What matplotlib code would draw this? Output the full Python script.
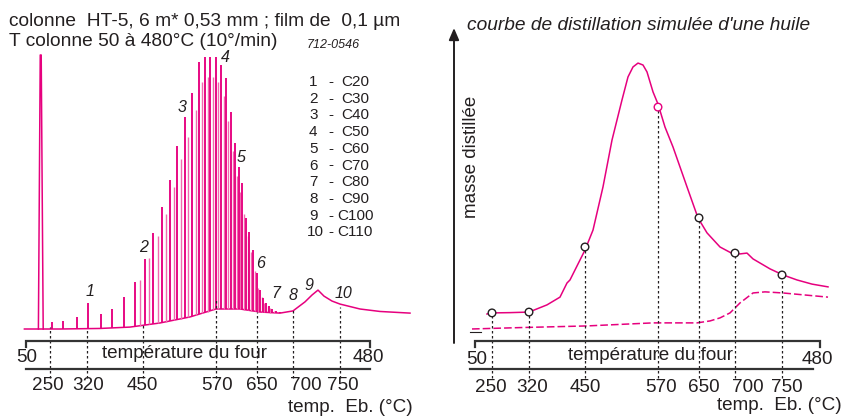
import matplotlib
matplotlib.use('Agg')
import matplotlib.pyplot as plt
import numpy as np

plt.rcParams['font.family'] = ['Liberation Sans', 'DejaVu Sans']

MAGENTA = '#e6007e'
LIGHT = '#f06aae'
INK = '#231f20'

# ---- left: chromatogram (oven temperature in degC, signal in % of solvent peak)
SOLVENT_T = [65.5, 67.8, 69.0, 71.5]
SOLVENT_S = [0.0, 100.0, 100.0, 0.0]

DRIFT_T = [48, 92.5, 142.5, 180, 217.5, 255, 287.5, 317.5, 342.5, 367.5, 383.75,
           398.75, 407.5, 415, 422.5, 432.5, 442.5, 467.5, 492.5, 530]
DRIFT_S = [0.0, 0.0, 0.2, 0.7, 2.2, 4.4, 7.3, 7.3, 6.2, 5.8, 6.6,
           9.9, 12.4, 14.2, 12.0, 10.2, 9.1, 7.3, 6.4, 5.8]

# even n-alkanes (small ones before C20, then C20 ... C84)
EVEN_T = [82.5, 96.25, 113.75, 127.5, 143.75, 157.5, 172.5, 186.25, 198.75, 208.75,
          220, 230, 238.75, 248.75, 257.5, 266.25, 273.75, 280, 287.5, 293.75,
          300, 306.25, 311.25, 316.25, 320, 325, 328.75, 333.75, 338.75, 342.5,
          346.25, 350, 353.75, 357.5, 362.5, 367.5]
EVEN_S = [2.6, 2.9, 4.4, 9.5, 5.5, 7.3, 11.7, 17.2, 25.5, 35.0,
          44.5, 54.4, 66.8, 77.4, 86.1, 97.4, 99.3, 99.3, 99.3, 96.4,
          91.6, 79.2, 67.9, 59.1, 53.3, 40.5, 35.4, 28.8, 20.4, 14.2,
          11.3, 9.5, 8.4, 7.3, 6.6, 6.2]

# odd n-alkanes (lighter traces) C29 ... C81
ODD_T = [192.5, 203.75, 214.4, 225, 234.4, 243.75, 253.1, 261.9, 270, 276.9,
         283.75, 290.6, 296.9, 303.1, 308.75, 313.75, 318.1, 322.5, 326.9, 331.25,
         336.25, 340.6, 344.4, 348.1, 351.9, 355.6, 360]
ODD_S = [18, 26, 34, 42, 52, 62, 70, 80, 90, 92,
         92, 90, 85, 76, 65, 56, 50, 42, 34, 28,
         21, 15, 11.5, 9.5, 8.5, 7.5, 6.7]

PEAK_LABELS = ['1', '2', '3', '4', '5', '6', '7', '8', '9', '10']
PEAK_NAMES = ['C20', 'C30', 'C40', 'C50', 'C60', 'C70', 'C80', 'C90', 'C100', 'C110']

# boiling temperature marks, placed at the oven temperature where they fall
BP_LABELS = ['250', '320', '450', '570', '650', '700', '750']
BP_OVEN = [80, 126.25, 196.25, 287.5, 338.75, 383.75, 442.5]
BP_TOP_LEFT = [0.7, -0.4, 1.5, 10.6, 6.2, 6.9, 8.0]

# ---- right: simulated distillation curve (mass, arbitrary units)
DIST_T = [73.75, 80, 102.5, 126.25, 148.75, 165, 173.75, 177.5, 196.25, 206.25,
          218.75, 230, 242.5, 250, 256.25, 262.5, 268.75, 273.75, 281.25, 287.5,
          296.25, 306.25, 323.75, 337.5, 348.75, 365, 381.25, 390, 398.75, 406.25,
          427.5, 443.75, 461.25, 480, 500]
DIST_M = [10.1, 10.5, 10.6, 10.8, 13.4, 16.2, 21.3, 22.4, 33.2, 40.4,
          56.0, 72.9, 87.4, 95.7, 99.3, 100.7, 100.0, 97.5, 90.3, 85.9,
          77.6, 70.4, 56.0, 44.8, 39.4, 34.3, 31.8, 31.8, 32.1, 30.0,
          26.4, 24.2, 22.4, 20.9, 19.9]
BP_MASS = [10.5, 10.8, 34.3, 84.8, 44.8, 32.1, 24.2]

BASE_T = [55, 115, 198.75, 281.25, 336.25, 352.5, 365, 377.5, 390, 406.25,
          421.25, 443.75, 500]
BASE_M = [4.7, 5.2, 5.8, 6.9, 6.9, 7.6, 8.7, 10.5, 14.1, 17.7,
          18.1, 17.7, 16.2]

fig = plt.figure(figsize=(8.44, 4.18), dpi=100)

# left data axes
ax_l = fig.add_axes([0, 0, 1, 1])
ax_l.set_xlim(17.5, 1072.5)
ax_l.set_ylim(-32.48, 120.07)
ax_l.axis('off')

ax_l.plot(SOLVENT_T, SOLVENT_S, color=MAGENTA, lw=1.1)
ax_l.plot(DRIFT_T, DRIFT_S, color=MAGENTA, lw=1.1)
ax_l.vlines(ODD_T, np.interp(ODD_T, DRIFT_T, DRIFT_S), ODD_S, color=LIGHT, lw=1.0)
ax_l.vlines(EVEN_T, np.interp(EVEN_T, DRIFT_T, DRIFT_S), EVEN_S, color=MAGENTA, lw=1.35)
ax_l.vlines(BP_OVEN, -17.9, BP_TOP_LEFT, color=INK, lw=0.9, linestyles=(0, (2, 2)))

# right data axes
ax_r = fig.add_axes([0, 0, 1, 1])
ax_r.set_xlim(-535, 520)
ax_r.set_ylim(-27.44, 123.47)
ax_r.axis('off')

ax_r.plot(DIST_T, DIST_M, color=MAGENTA, lw=1.1)
ax_r.plot(BASE_T, BASE_M, color=MAGENTA, lw=1.1, dashes=(5, 2))
ax_r.vlines(BP_OVEN, -13.0, BP_MASS, color=INK, lw=0.9, linestyles=(0, (2, 2)))
edge = [INK, INK, INK, MAGENTA, INK, INK, INK]
ax_r.scatter(BP_OVEN, BP_MASS, s=30, facecolor='white', edgecolor=edge, lw=1.0, zorder=5)

# overlay in pixels for the drawing furniture and text
ax = fig.add_axes([0, 0, 1, 1])
ax.set_xlim(0, 844)
ax.set_ylim(418, 0)
ax.axis('off')

ax.text(9, 21, 'colonne  HT-5, 6 m* 0,53 mm ; film de  0,1 µm', fontsize=13.8,
        color=INK, va='center')
ax.text(9, 42, 'T colonne 50 à 480°C (10°/min)', fontsize=13.8, color=INK, va='center')
ax.text(307, 45, '712-0546', fontsize=9, style='italic', color=INK, va='center')

for i, (num, name) in enumerate(zip(PEAK_LABELS, PEAK_NAMES)):
    y = 82 + i * 16.7
    ax.text(309 if len(num) == 1 else 307, y, num, fontsize=11, color=INK, va='center')
    ax.text(331, y, '-', fontsize=11, color=INK, va='center', ha='center')
    ax.text(355, y, name, fontsize=11, color=INK, va='center', ha='center')

lab_pos = [(90, 291), (144, 248), (182, 107), (225, 58), (241, 158),
           (261, 263), (276, 294), (293, 295), (309, 286), (343, 293)]
for num, (x, y) in zip(PEAK_LABELS, lab_pos):
    ax.text(x, y, num, fontsize=11.5, style='italic', color=INK, ha='center', va='center')

# brackets
for x0, x1, xb0, xb1 in [(26, 370, 26, 370), (475, 820, 470, 813)]:
    ax.plot([x0, x0, x1, x1], [347, 340.5, 340.5, 347], color='#333333', lw=1.6,
            solid_joinstyle='miter')
    ax.plot([xb0, xb1], [369, 369], color='#333333', lw=1.6)

FS = 13.6
ax.text(27, 357, '50', fontsize=FS, color=INK, ha='center', va='center')
ax.text(368, 358, '480', fontsize=FS, color=INK, ha='center', va='center')
ax.text(185, 353, 'température du four', fontsize=FS, color=INK, ha='center', va='center')
ax.text(477, 359, '50', fontsize=FS, color=INK, ha='center', va='center')
ax.text(817, 360, '480', fontsize=FS, color=INK, ha='center', va='center')
ax.text(650, 355, 'température du four', fontsize=FS, color=INK, ha='center', va='center')

left_lab_x = [48, 88, 142, 217, 262, 306, 343]
right_lab_x = [491, 532, 585, 661, 704, 748, 787]
for lab, xl, xr in zip(BP_LABELS, left_lab_x, right_lab_x):
    ax.text(xl, 386, lab, fontsize=FS, color=INK, ha='center', va='center')
    ax.text(xr, 387, lab, fontsize=FS, color=INK, ha='center', va='center')

ax.text(413, 408, 'temp.  Eb. (°C)', fontsize=FS, color=INK, ha='right', va='center')
ax.text(842, 406, 'temp.  Eb. (°C)', fontsize=FS, color=INK, ha='right', va='center')

# right vertical arrow
ax.annotate('', xy=(454, 28), xytext=(454, 343),
            arrowprops=dict(arrowstyle='-|>,head_width=0.3,head_length=0.7',
                            color=INK, lw=1.4, shrinkA=0, shrinkB=0))
ax.text(472, 157, 'masse distillée', fontsize=13.5, color=INK, rotation=90,
        ha='center', va='center')
ax.text(467, 25, "courbe de distillation simulée d'une huile", fontsize=13.8,
        style='italic', color=INK, va='center')
ax.plot([470, 481], [332, 332], color=INK, lw=0.8)

fig.savefig('out.png', dpi=100)
